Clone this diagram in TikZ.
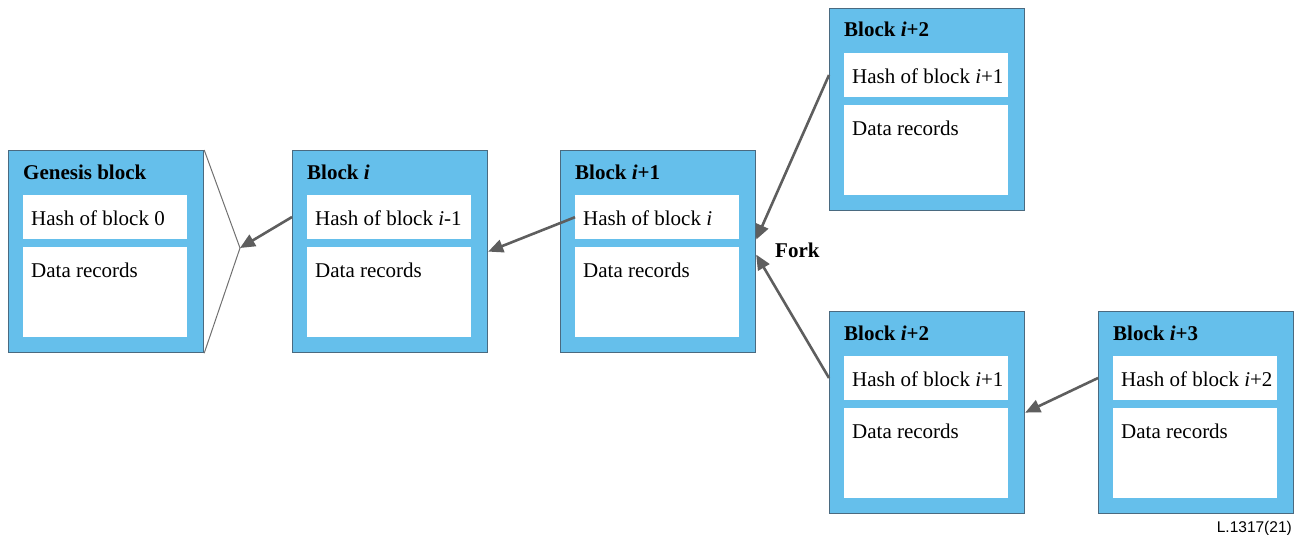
\documentclass[tikz,border=0pt]{standalone}
\usepackage{fontspec}
\setmainfont{Liberation Serif}
\setsansfont{Liberation Sans}
\usetikzlibrary{arrows.meta,calc}
\definecolor{blkfill}{HTML}{65BFEB}
\definecolor{blkline}{HTML}{4A6A80}
\definecolor{arrgray}{HTML}{5E5E5E}
\definecolor{thingray}{HTML}{707070}
\tikzset{
  outerbox/.style={draw=blkline, line width=1.2pt, fill=blkfill, minimum width=195pt, minimum height=202pt, inner sep=0pt, anchor=north west},
  hashbox/.style={fill=white, draw=none, minimum width=164pt, minimum height=44pt, inner sep=0pt, anchor=north west},
  databox/.style={fill=white, draw=none, minimum width=164pt, minimum height=90pt, inner sep=0pt, anchor=north west},
  titletxt/.style={font=\fontsize{21}{24}\selectfont\bfseries, inner sep=0pt, anchor=base west},
  bodytxt/.style={font=\fontsize{21}{24}\selectfont, inner sep=0pt, anchor=base west},
  conn/.style={draw=arrgray, line width=2.6pt, -{Triangle[length=15pt,width=13pt]}, fill=arrgray},
  thinline/.style={draw=thingray, line width=1pt},
}
\newcommand\myblock[5]{%
  \node[outerbox] (#1) at (#2,-#3) {};
  \node[hashbox] (#1-h) at ({#2+15},{-#3-45}) {};
  \node[databox] (#1-d) at ({#2+15},{-#3-97}) {};
  \node[titletxt] (#1-t) at ({#2+15},{-#3-29}) {#4};
  \node[bodytxt] (#1-ht) at ({#2+23},{-#3-75}) {#5};
  \node[bodytxt] (#1-dt) at ({#2+23},{-#3-127}) {Data records};
}
\begin{document}
\begin{tikzpicture}[x=1pt,y=1pt]
\useasboundingbox (0,0) rectangle (1301,-535);
\myblock{g}{8}{150}{Genesis block}{Hash of block 0}
\myblock{bi}{292}{150}{Block \textit{i}}{Hash of block \textit{i}-1}
\myblock{bj}{560}{150}{Block \textit{i}+1}{Hash of block \textit{i}}
\myblock{bt}{829}{8}{Block \textit{i}+2}{Hash of block \textit{i}+1}
\myblock{bb}{829}{311}{Block \textit{i}+2}{Hash of block \textit{i}+1}
\myblock{bc}{1098}{311}{Block \textit{i}+3}{Hash of block \textit{i}+2}
\coordinate (gp) at (240,-248);
\draw[thinline] (g.north east) -- (gp) -- (g.south east);
\draw[conn] ($(bi.north west)+(0,-67)$) -- (gp);
\draw[conn] (bj-h.west) -- (bi.east);
\draw[conn] ($(bt.north west)+(0,-67)$) -- ($(bj.east)+(0,12)$);
\draw[conn] ($(bb.north west)+(0,-67)$) -- ($(bj.east)+(0,-3)$);
\draw[conn] ($(bc.north west)+(0,-67)$) -- (bb.east);
\node[titletxt] (fork) at (775,-257) {Fork};
\node[font=\sffamily\fontsize{15.5}{18}\selectfont, inner sep=0pt, anchor=base east] (cap) at (1292,-532) {L.1317(21)};
\end{tikzpicture}
\end{document}
